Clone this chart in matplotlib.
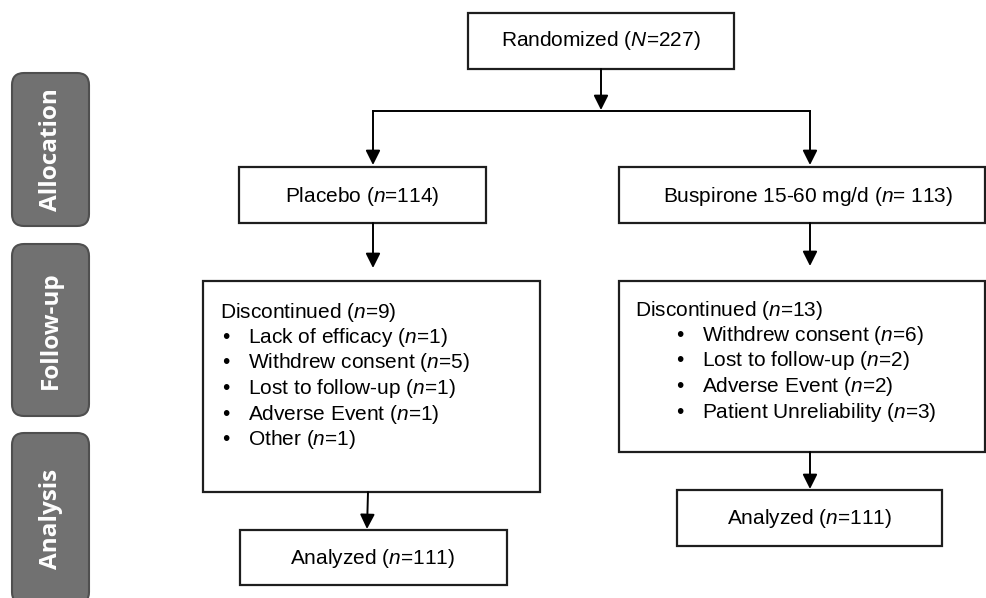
import matplotlib
matplotlib.use("Agg")
import matplotlib.pyplot as plt
from matplotlib.patches import Rectangle, FancyBboxPatch

plt.rcParams['font.family'] = ['Liberation Sans', 'DejaVu Sans']
plt.rcParams['mathtext.fontset'] = 'custom'
plt.rcParams['mathtext.rm'] = 'Liberation Sans'
plt.rcParams['mathtext.it'] = 'Liberation Sans:italic'

# side stage labels
stages = ['Allocation', 'Follow-up', 'Analysis']
stage_top = [73, 244, 433]
stage_bot = [226, 416, 604]

# box texts
randomized = r'Randomized ($\mathit{N}$=227)'
arms = [r'Placebo ($\mathit{n}$=114)', r'Buspirone 15-60 mg/d ($\mathit{n}$= 113)']
disc_head = [r'Discontinued ($\mathit{n}$=9)', r'Discontinued ($\mathit{n}$=13)']
disc_left = [r'Lack of efficacy ($\mathit{n}$=1)', r'Withdrew consent ($\mathit{n}$=5)',
             r'Lost to follow-up ($\mathit{n}$=1)', r'Adverse Event ($\mathit{n}$=1)',
             r'Other ($\mathit{n}$=1)']
disc_right = [r'Withdrew consent ($\mathit{n}$=6)', r'Lost to follow-up ($\mathit{n}$=2)',
              r'Adverse Event ($\mathit{n}$=2)', r'Patient Unreliability ($\mathit{n}$=3)']
analyzed = [r'Analyzed ($\mathit{n}$=111)', r'Analyzed ($\mathit{n}$=111)']

fig = plt.figure(figsize=(9.87, 5.98), dpi=100)
ax = fig.add_axes([0, 0, 1, 1])
ax.set_xlim(0, 987)
ax.set_ylim(598, 0)
ax.axis('off')

FS = 15
LINE = 25.5


def box(x0, y0, x1, y1):
    ax.add_patch(Rectangle((x0, y0), x1 - x0, y1 - y0, fill=False,
                           edgecolor='#1e1e1e', linewidth=1.6))


def arrow(x0, y0, x1, y1):
    ax.annotate('', xy=(x1, y1), xytext=(x0, y0),
                arrowprops=dict(arrowstyle='-|>', color='black', lw=1.4,
                                mutation_scale=22, shrinkA=0, shrinkB=0))


# stage labels
for s, t, b in zip(stages, stage_top, stage_bot):
    ax.add_patch(FancyBboxPatch((12, t), 77, b - t,
                                boxstyle='round,pad=0,rounding_size=12',
                                facecolor='#717171', edgecolor='#4f4f4f', lw=1.5))
    ax.text(51, (t + b) / 2, s, rotation=90, ha='center', va='center', color='white',
            fontsize=17.5, fontweight='bold', family=['Open Sans', 'DejaVu Sans'])

# top box
box(468, 13, 734, 69)
ax.text(601, 41, randomized, ha='center', va='center', fontsize=FS)
arrow(601, 69, 601, 110)
ax.plot([373, 810], [111, 111], color='black', lw=1.4)
arrow(373, 111, 373, 165)
arrow(810, 111, 810, 165)

# arm boxes
box(239, 167, 486, 223)
ax.text(362, 196, arms[0], ha='center', va='center', fontsize=FS)
box(619, 167, 985, 223)
ax.text(808, 196, arms[1], ha='center', va='center', fontsize=FS)
arrow(373, 223, 373, 268)
arrow(810, 223, 810, 266)

# discontinued boxes
box(203, 281, 540, 492)
ax.text(220, 312, disc_head[0], ha='left', va='center', fontsize=FS)
for i, t in enumerate(disc_left):
    y = 312 + (i + 1) * LINE
    ax.text(222, y, '\u2022', ha='left', va='center', fontsize=FS)
    ax.text(248, y, t, ha='left', va='center', fontsize=FS)

box(619, 281, 985, 452)
ax.text(635, 310, disc_head[1], ha='left', va='center', fontsize=FS)
for i, t in enumerate(disc_right):
    y = 310 + (i + 1) * LINE
    ax.text(676, y, '\u2022', ha='left', va='center', fontsize=FS)
    ax.text(702, y, t, ha='left', va='center', fontsize=FS)

# analyzed
arrow(368, 492, 367, 529)
box(240, 530, 507, 585)
ax.text(372, 559, analyzed[0], ha='center', va='center', fontsize=FS)
arrow(810, 452, 810, 489)
box(677, 490, 942, 546)
ax.text(809, 518, analyzed[1], ha='center', va='center', fontsize=FS)

fig.savefig('out.png', dpi=100, facecolor='white')
